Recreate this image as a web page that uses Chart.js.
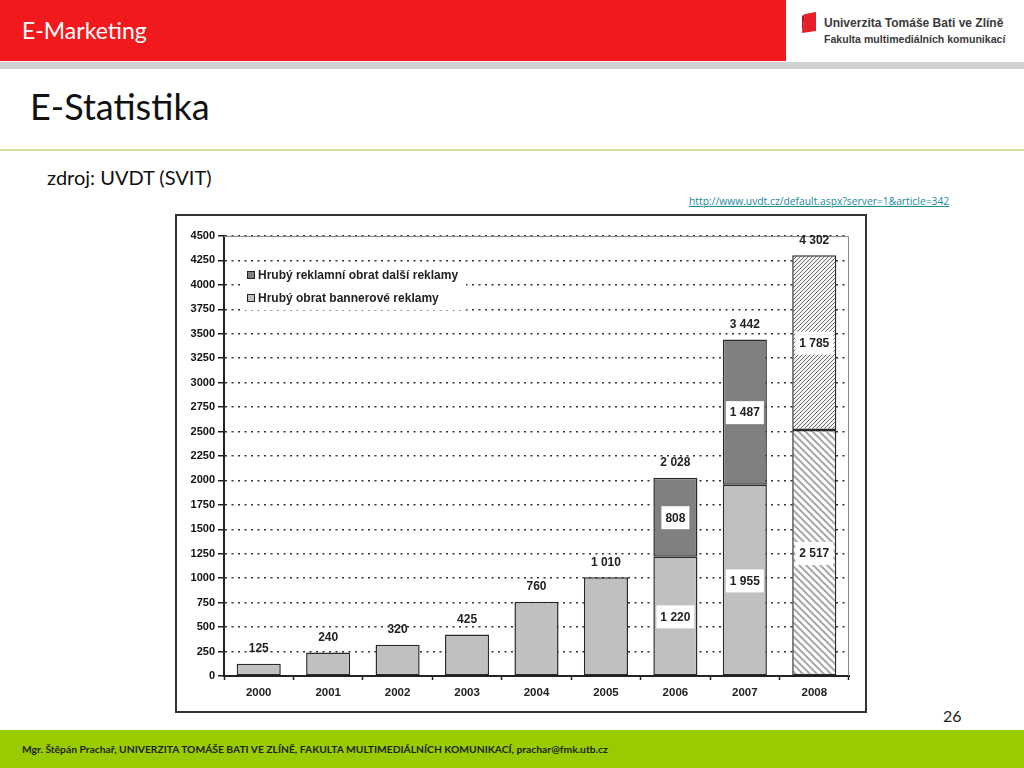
<!DOCTYPE html>
<html>
<head>
<meta charset="utf-8">
<script src="https://cdn.jsdelivr.net/npm/chart.js@4.4.1/dist/chart.umd.min.js"></script>
<style>
  body { margin: 0; width: 1024px; height: 768px; position: relative; background: #fff; font-family: Lato, "Open Sans", sans-serif; overflow: hidden; }
  .hdr { position: absolute; left: 0; top: 0; width: 786px; height: 61px; background: #f2191c; }
  .hdr span { position: absolute; left: 22px; top: 16px; color: #fff; font-size: 23px; }
  .stripe { position: absolute; left: 0; top: 62px; width: 1024px; height: 7px; background: #d2d2d2; }
  .logo { position: absolute; left: 800px; top: 10px; }
  .logo .t1, .logo .t2 { position: absolute; left: 24px; white-space: nowrap; color: #3a3a3a; transform-origin: 0 0; font-family: "Liberation Sans", sans-serif; font-weight: bold; }
  .logo .t1 { top: 5px; font-size: 13.5px; transform: scaleX(0.89); }
  .logo .t2 { top: 23px; font-size: 11px; transform: scaleX(0.96); }
  h1 { position: absolute; left: 30px; top: 84px; margin: 0; font-weight: normal; font-size: 36px; color: #111; }
  .gline { position: absolute; left: 0; top: 149px; width: 1024px; height: 2px; background: #d3de9a; }
  .src { position: absolute; left: 47px; top: 165px; font-size: 20px; color: #111; }
  .url { position: absolute; left: 689px; top: 194px; font-size: 10.3px; color: #1a8a9a; text-decoration: underline; font-family: "Open Sans", sans-serif; }
  .box { position: absolute; left: 175px; top: 214px; width: 688px; height: 495px; border: 2px solid #333; background: #fff; }
  .num { position: absolute; left: 943px; top: 706px; font-size: 16px; color: #222; }
  .ftr { position: absolute; left: 0; top: 730px; width: 1024px; height: 38px; background: #99cc00; }
  .ftr span { position: absolute; left: 22px; top: 13px; font-size: 10.3px; font-weight: bold; color: #222; white-space: nowrap; }
</style>
</head>
<body>
<div class="hdr"><span>E-Marketing</span></div>
<div class="stripe"></div>
<div class="logo">
  <svg width="18" height="24" style="position:absolute;left:0;top:2px"><polygon points="5,2 16,0 16,19 2,21" fill="#e5202a"/><polygon points="2,4 5,2 2,21" fill="#b0141c"/></svg>
  <div class="t1">Univerzita Tomáše Bati ve Zlíně</div>
  <div class="t2">Fakulta multimediálních komunikací</div>
</div>
<h1>E-Statistika</h1>
<div class="gline"></div>
<div class="src">zdroj: UVDT (SVIT)</div>
<div class="url">http://www.uvdt.cz/default.aspx?server=1&amp;article=342</div>
<div class="box"><canvas id="myChart" width="688" height="495"></canvas></div>
<div class="num">26</div>
<div class="ftr"><span>Mgr. Štěpán Prachař, UNIVERZITA TOMÁŠE BATI VE ZLÍNĚ, FAKULTA MULTIMEDIÁLNÍCH KOMUNIKACÍ, prachar@fmk.utb.cz</span></div>

<script>
const years = ['2000', '2001', '2002', '2003', '2004', '2005', '2006', '2007', '2008'];
const bannerValues = [125, 240, 320, 425, 760, 1010, 1220, 1955, 2517];
const otherValues = [0, 0, 0, 0, 0, 0, 808, 1487, 1785];
const totalValues = [125, 240, 320, 425, 760, 1010, 2028, 3442, 4302];
const yTicks = [0, 250, 500, 750, 1000, 1250, 1500, 1750, 2000, 2250, 2500, 2750, 3000, 3250, 3500, 3750, 4000, 4250, 4500];
const seriesNames = ['Hrubý reklamní obrat další reklamy', 'Hrubý obrat bannerové reklamy'];

const FONT = '"Liberation Sans", Arial, sans-serif';

function fmt(v) {
  return String(v).replace(/\B(?=(\d{3})+(?!\d))/g, ' ');
}

// hatch patterns for 2008 (odhad)
function hatch(bg, fg, size, width, dir) {
  const c = document.createElement('canvas');
  c.width = size; c.height = size;
  const x = c.getContext('2d');
  x.fillStyle = bg; x.fillRect(0, 0, size, size);
  x.strokeStyle = fg; x.lineWidth = width;
  x.beginPath();
  if (dir > 0) {
    x.moveTo(-1, size + 1); x.lineTo(size + 1, -1);
    x.moveTo(-1, 1); x.lineTo(1, -1);
    x.moveTo(size - 1, size + 1); x.lineTo(size + 1, size - 1);
  } else {
    x.moveTo(-1, -1); x.lineTo(size + 1, size + 1);
    x.moveTo(size - 1, -1); x.lineTo(size + 1, 1);
    x.moveTo(-1, size - 1); x.lineTo(1, size + 1);
  }
  x.stroke();
  return x.createPattern(c, 'repeat');
}

const ctx = document.getElementById('myChart').getContext('2d');
const bannerHatch = hatch('#ffffff', '#a8a8a8', 7, 2, -1);
const otherHatch = hatch('#f4f4f4', '#6a6a6a', 4, 1, 1);

const bannerColors = years.map((y, i) => i === 8 ? bannerHatch : '#c0c0c0');
const otherColors = years.map((y, i) => i === 8 ? otherHatch : '#808080');

const labelsPlugin = {
  id: 'labels',
  afterDatasetsDraw(chart) {
    const c = chart.ctx;
    const a = chart.chartArea;
    const ys = chart.scales.y;
    const meta = chart.getDatasetMeta(0);
    c.save();
    // plot frame top/right
    c.strokeStyle = '#8a8a8a';
    c.lineWidth = 1;
    c.beginPath();
    c.moveTo(a.left, a.top + 0.5); c.lineTo(a.right - 0.5, a.top + 0.5); c.lineTo(a.right - 0.5, a.bottom);
    c.stroke();

    c.font = 'bold 12px ' + FONT;
    c.textAlign = 'center';
    c.textBaseline = 'middle';
    // totals
    totalValues.forEach((v, i) => {
      const x = meta.data[i].x;
      c.fillStyle = '#222';
      c.fillText(fmt(v), x, ys.getPixelForValue(v) - 15);
    });
    // inner boxed labels
    function boxed(text, x, y) {
      const w = c.measureText(text).width + 8;
      c.fillStyle = '#fff';
      c.fillRect(x - w / 2, y - 11, w, 23);
      c.fillStyle = '#222';
      c.fillText(text, x, y + 1);
    }
    years.forEach((yr, i) => {
      if (otherValues[i] > 0) {
        const x = meta.data[i].x;
        const yb = (ys.getPixelForValue(0) + ys.getPixelForValue(bannerValues[i])) / 2;
        const yo = (ys.getPixelForValue(bannerValues[i]) + ys.getPixelForValue(totalValues[i])) / 2;
        boxed(fmt(bannerValues[i]), x, yb);
        boxed(fmt(otherValues[i]), x, yo);
      }
    });

    // legend
    c.fillStyle = '#fff';
    c.fillRect(a.left + 16, a.top + 26, 226, 48);
    const items = [['#808080', seriesNames[0]], ['#c0c0c0', seriesNames[1]]];
    c.textAlign = 'left';
    items.forEach((it, k) => {
      const ly = a.top + 39 + k * 23;
      c.fillStyle = it[0];
      c.fillRect(a.left + 23, ly - 4, 8, 8);
      c.strokeStyle = '#222';
      c.lineWidth = 1;
      c.strokeRect(a.left + 23.5, ly - 3.5, 7, 7);
      c.fillStyle = '#222';
      c.fillText(it[1], a.left + 34, ly + 1);
    });
    c.restore();
  }
};

new Chart(ctx, {
  type: 'bar',
  data: {
    labels: years,
    datasets: [
      {
        label: seriesNames[1],
        data: bannerValues,
        backgroundColor: bannerColors,
        borderColor: '#2a2a2a',
        borderWidth: 1.5,
        borderSkipped: false,
        barPercentage: 0.635,
        categoryPercentage: 1
      },
      {
        label: seriesNames[0],
        data: otherValues.map(v => v || null),
        backgroundColor: otherColors,
        borderColor: '#2a2a2a',
        borderWidth: 1.5,
        borderSkipped: false,
        barPercentage: 0.635,
        categoryPercentage: 1
      }
    ]
  },
  options: {
    responsive: false,
    animation: false,
    layout: { padding: { left: 0, right: 16, top: 20, bottom: 0 } },
    scales: {
      x: {
        stacked: true,
        grid: {
          display: true,
          drawOnChartArea: false,
          drawTicks: true,
          tickLength: 4,
          tickColor: '#222',
          tickWidth: 1.5,
          offset: true
        },
        border: { display: true, color: '#222', width: 2 },
        ticks: { color: '#222', font: { family: FONT, size: 11.5, weight: 'bold' }, padding: 6 },
        afterFit(s) { s.height = 35; }
      },
      y: {
        stacked: true,
        min: 0,
        max: 4500,
        afterBuildTicks(s) { s.ticks = yTicks.map(v => ({ value: v })); },
        grid: {
          color: '#333',
          lineWidth: 1.5,
          drawTicks: true,
          tickLength: 6,
          tickColor: '#222',
          tickWidth: 1.5,
          tickBorderDash: []
        },
        border: { display: true, color: '#222', width: 2, dash: [2, 4.5] },
        ticks: {
          color: '#111',
          font: { family: FONT, size: 11, weight: 'bold' },
          padding: 3,
          callback: v => String(v)
        },
        afterFit(s) { s.width = 47; }
      }
    },
    plugins: {
      legend: { display: false },
      tooltip: { enabled: false }
    }
  },
  plugins: [labelsPlugin]
});
</script>
</body>
</html>
